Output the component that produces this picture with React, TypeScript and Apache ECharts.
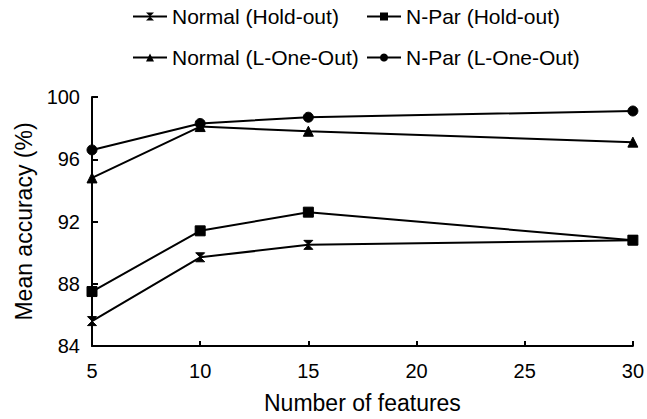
import React, { useEffect, useRef } from "react";
import * as echarts from "echarts";

const features = [5, 10, 15, 30];
const normalHoldOut = [85.6, 89.7, 90.5, 90.8];
const nparHoldOut = [87.5, 91.4, 92.6, 90.8];
const normalLOO = [94.8, 98.1, 97.8, 97.1];
const nparLOO = [96.6, 98.3, 98.7, 99.1];
const seriesNames = [
  "Normal (Hold-out)",
  "N-Par (Hold-out)",
  "Normal (L-One-Out)",
  "N-Par (L-One-Out)",
];
const xTicks = { min: 5, max: 30, interval: 5 };
const yTicks = { min: 84, max: 100, interval: 4 };

const hourglass = "path://M0 0H10L5 5L10 10H0L5 5Z";
const symbols = [hourglass, "rect", "triangle", "circle"];
const sizes = [9, 10, 10, 10];

export default function App() {
  const ref = useRef<HTMLDivElement>(null);
  useEffect(() => {
    if (!ref.current) return;
    const chart = echarts.init(ref.current, undefined, { renderer: "svg" });
    const values = [normalHoldOut, nparHoldOut, normalLOO, nparLOO];
    const font = "Liberation Sans, Arial, sans-serif";
    const legendPos = [
      { left: 127, top: 1 },
      { left: 361, top: 1 },
      { left: 127, top: 42 },
      { left: 361, top: 42 },
    ];
    chart.setOption({
      animation: false,
      backgroundColor: "#fff",
      legend: seriesNames.map((n, i) => ({
        data: [n],
        left: legendPos[i].left,
        top: legendPos[i].top,
        itemWidth: 34,
        itemHeight: 10,
        itemGap: 6,
        textStyle: { fontSize: 21, color: "#000", fontFamily: font },
        selectedMode: false,
      })),
      grid: { left: 92, right: 11, top: 97, bottom: 72, containLabel: false },
      xAxis: {
        type: "value",
        min: xTicks.min,
        max: xTicks.max,
        interval: xTicks.interval,
        name: "Number of features",
        nameLocation: "middle",
        nameGap: 45,
        nameTextStyle: { fontSize: 23, color: "#000", fontFamily: font },
        axisLine: { lineStyle: { color: "#000", width: 2 } },
        axisTick: { inside: true, length: 5, lineStyle: { color: "#000", width: 2 } },
        axisLabel: { fontSize: 20, color: "#000", fontFamily: font, margin: 15 },
        splitLine: { show: false },
      },
      yAxis: {
        type: "value",
        min: yTicks.min,
        max: yTicks.max,
        interval: yTicks.interval,
        name: "Mean accuracy (%)",
        nameLocation: "middle",
        nameGap: 55,
        nameTextStyle: { fontSize: 23, color: "#000", fontFamily: font },
        axisLine: { lineStyle: { color: "#000", width: 2 } },
        axisTick: { inside: true, length: 6, lineStyle: { color: "#000", width: 2 } },
        axisLabel: { fontSize: 20, color: "#000", fontFamily: font, margin: 12 },
        splitLine: { show: false },
      },
      series: seriesNames.map((n, i) => ({
        name: n,
        type: "line",
        data: features.map((f, j) => [f, values[i][j]]),
        symbol: symbols[i],
        symbolSize: sizes[i],
        showAllSymbol: true,
        lineStyle: { color: "#000", width: 2 },
        itemStyle: { color: "#000", borderColor: "#000" },
        emphasis: { disabled: true },
      })),
    });
    return () => chart.dispose();
  }, []);
  return (
    <div
      ref={ref}
      style={{ position: "fixed", left: 0, top: 0, width: 647, height: 419 }}
    />
  );
}
